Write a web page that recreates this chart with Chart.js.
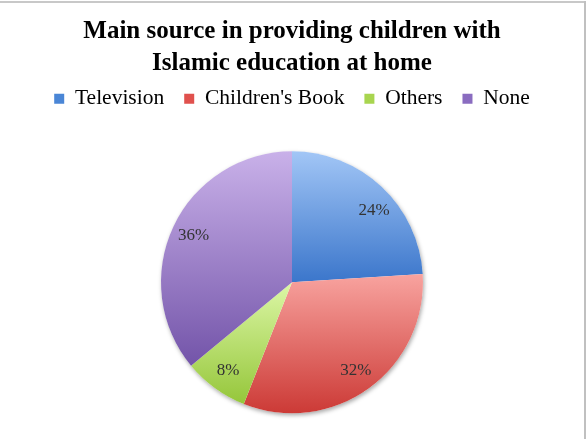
<!DOCTYPE html>
<html>
<head>
<meta charset="utf-8">
<script src="https://cdn.jsdelivr.net/npm/chart.js@4.4.1/dist/chart.umd.min.js"></script>
<style>
  body { margin: 0; background: #fff; }
  #wrap { position: relative; width: 588px; height: 439px; }
  #wrap:before { content: ""; position: absolute; left: 0; top: 1px; width: 586px; height: 2px; background: #c8c8c8; }
  #wrap:after { content: ""; position: absolute; left: 584px; top: 1px; width: 2px; height: 438px; background: #c0c0c0; }
</style>
</head>
<body>
<div id="wrap"><canvas id="mycanvas" width="588" height="439"></canvas></div>
<script>
var categories = ["Television", "Children's Book", "Others", "None"];
var percents = [24, 32, 8, 36];
var baseColors = ['#4a86d6', '#e0514d', '#a8d54f', '#8a6cc0'];
var lightColors = ['#a2c6f6', '#f8a39f', '#dcf7a6', '#c9b1e9'];
var darkColors = ['#3b76cb', '#cc3a36', '#95c63a', '#7354a9'];

// slice gradients, light on top, dark at bottom (like the excel look)
var sliceGradient = {
  id: 'sliceGradient',
  beforeDatasetsDraw: function(chart){
    var ctx = chart.ctx;
    var meta = chart.getDatasetMeta(0);
    var first = meta.data[0];
    // soft shadow behind the pie
    ctx.save();
    ctx.shadowColor = 'rgba(0,0,0,0.35)';
    ctx.shadowBlur = 4;
    ctx.shadowOffsetX = 1;
    ctx.shadowOffsetY = 2;
    ctx.fillStyle = '#fff';
    ctx.beginPath();
    ctx.arc(first.x, first.y, first.outerRadius, 0, Math.PI * 2);
    ctx.fill();
    ctx.restore();

    meta.data.forEach(function(arc, i){
      var ys = [arc.y];
      var a0 = arc.startAngle, a1 = arc.endAngle, r = arc.outerRadius;
      ys.push(arc.y + r * Math.sin(a0));
      ys.push(arc.y + r * Math.sin(a1));
      [-Math.PI / 2, Math.PI / 2, 3 * Math.PI / 2].forEach(function(a){
        if (a > a0 && a < a1) ys.push(arc.y + r * Math.sin(a));
      });
      var top = Math.min.apply(null, ys), bot = Math.max.apply(null, ys);
      var g = ctx.createLinearGradient(0, top, 0, bot);
      g.addColorStop(0, lightColors[i]);
      g.addColorStop(1, darkColors[i]);
      arc.options.backgroundColor = g;
    });
  }
};

var sliceLabels = {
  id: 'sliceLabels',
  afterDatasetsDraw: function(chart){
    var ctx = chart.ctx;
    var meta = chart.getDatasetMeta(0);
    ctx.save();
    ctx.font = '17px "Liberation Serif"';
    ctx.fillStyle = '#333';
    ctx.textAlign = 'center';
    ctx.textBaseline = 'middle';
    meta.data.forEach(function(arc, i){
      var mid = (arc.startAngle + arc.endAngle) / 2;
      var rr = arc.outerRadius * 0.83;
      if (i === 0) mid += 0.1; // excel nudges this one a bit lower
      ctx.fillText(percents[i] + '%', arc.x + rr * Math.cos(mid), arc.y + rr * Math.sin(mid));
    });
    ctx.restore();
  }
};

var ctx = document.getElementById('mycanvas');
var pieChart = new Chart(ctx, {
  type: 'pie',
  data: {
    labels: categories,
    datasets: [{
      data: percents,
      backgroundColor: baseColors,
      borderWidth: 0,
      radius: 131
    }]
  },
  options: {
    responsive: false,
    animation: false,
    layout: { padding: { left: 0, right: 4, top: 0, bottom: 0 } },
    plugins: {
      title: {
        display: true,
        text: ['Main source in providing children with', 'Islamic education at home'],
        color: '#000',
        font: { family: '"Liberation Serif"', size: 25, weight: 'bold', lineHeight: 1.26 },
        padding: { top: 16, bottom: -11 }
      },
      // empty spacer under the legend
      subtitle: {
        display: true,
        text: '',
        weight: 500,
        font: { size: 1, lineHeight: 1 },
        padding: { top: 5, bottom: 0 }
      },
      legend: {
        position: 'top',
        labels: {
          color: '#000',
          boxWidth: 10,
          boxHeight: 10,
          padding: 20,
          font: { family: '"Liberation Serif"', size: 21.5 }
        }
      },
      tooltip: { enabled: false }
    }
  },
  plugins: [sliceGradient, sliceLabels]
});
</script>
</body>
</html>
